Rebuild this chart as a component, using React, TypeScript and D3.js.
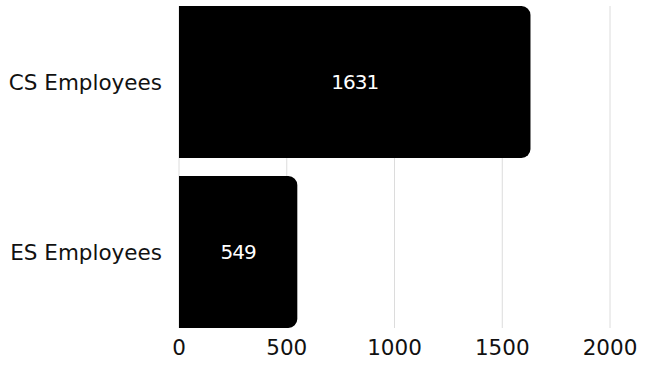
import React from "react";
import * as d3 from "d3";

const categories = ["CS Employees", "ES Employees"];
const values = [1631, 549];
const ticks = [0, 500, 1000, 1500, 2000];

const W = 646, H = 365;
const margin = { left: 179, right: 36, top: 6, bottom: 37 };
const FONT = "'DejaVu Sans', sans-serif";

function barPath(x0: number, x1: number, y0: number, h: number, r: number) {
  const rr = Math.min(r, (x1 - x0) / 2, h / 2);
  return `M${x0},${y0}H${x1 - rr}A${rr},${rr} 0 0 1 ${x1},${y0 + rr}V${y0 + h - rr}A${rr},${rr} 0 0 1 ${x1 - rr},${y0 + h}H${x0}Z`;
}

export default function App() {
  const x = d3.scaleLinear().domain([0, 2000]).range([margin.left, W - margin.right]);
  const y = d3.scaleBand<string>().domain(categories).range([margin.top, H - margin.bottom]).paddingInner(0.106).paddingOuter(0);
  const bottom = H - margin.bottom;
  return (
    <svg width={W} height={H} style={{ position: "absolute", left: 0, top: 0, background: "#fff" }}>
      {ticks.map((t) => (
        <line key={t} x1={x(t)} x2={x(t)} y1={margin.top} y2={bottom} stroke="#dcdcdc" strokeWidth={1} />
      ))}
      {categories.map((c, i) => (
        <g key={c}>
          <path d={barPath(x(0), x(values[i]), y(c)!, y.bandwidth(), 9)} fill="#000" />
          <text x={(x(0) + x(values[i])) / 2} y={y(c)! + y.bandwidth() / 2} dy="0.36em" textAnchor="middle" fill="#fff" fontFamily={FONT} fontSize={20} letterSpacing={-1}>
            {values[i]}
          </text>
          <text x={162} y={y(c)! + y.bandwidth() / 2} dy="0.36em" textAnchor="end" fill="#111" fontFamily={FONT} fontSize={21.5}>
            {c}
          </text>
        </g>
      ))}
      {ticks.map((t) => (
        <text key={"t" + t} x={x(t)} y={347} dy="0.36em" textAnchor="middle" fill="#111" fontFamily={FONT} fontSize={21.5}>
          {t}
        </text>
      ))}
    </svg>
  );
}
